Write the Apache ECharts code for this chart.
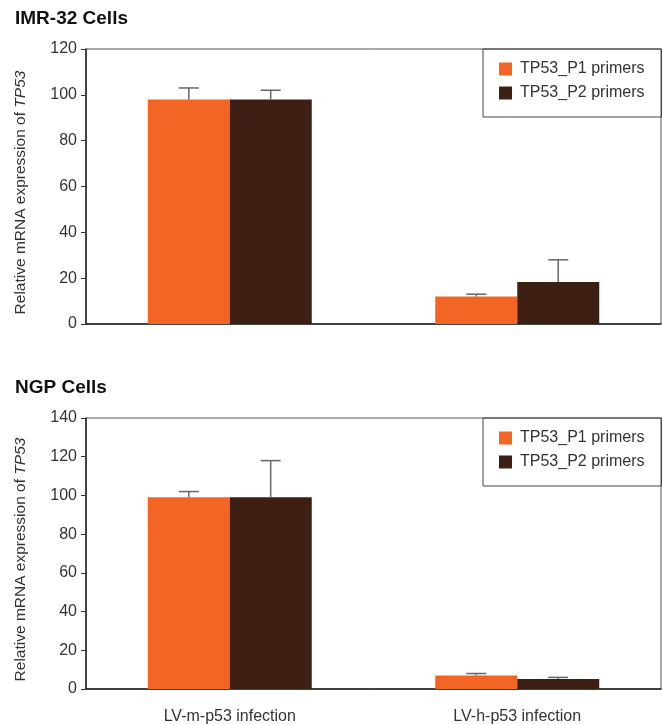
<!DOCTYPE html>
<html>
<head>
<meta charset="utf-8">
<script src="https://cdn.jsdelivr.net/npm/echarts@6/dist/echarts.min.js"></script>
<style>
html,body{margin:0;padding:0;background:#fff;}
#chart{width:662px;height:725px;}
</style>
</head>
<body>
<div id="chart"></div>
<script>
// ---- data ----
const categories = ['LV-m-p53 infection', 'LV-h-p53 infection'];
const seriesNames = ['TP53_P1 primers', 'TP53_P2 primers'];
const panelTitles = ['IMR-32 Cells', 'NGP Cells'];
const yTicksTop = [0, 20, 40, 60, 80, 100, 120];
const yTicksBottom = [0, 20, 40, 60, 80, 100, 120, 140];
// IMR-32 cells
const imrP1 = [98, 12];
const imrP1ErrTop = [103, 13];
const imrP2 = [98, 18.3];
const imrP2ErrTop = [102, 28];
// NGP cells
const ngpP1 = [99, 7];
const ngpP1ErrTop = [102, 8];
const ngpP2 = [99, 5.2];
const ngpP2ErrTop = [118, 6];

const colors = ['#F26524', '#3D1F14'];
const FONT = '"Liberation Sans", Arial, Helvetica, sans-serif';
const TXT = '#333';

const chart = echarts.init(document.getElementById('chart'));

function errData(p1, p1e, p2, p2e) {
  const d = [];
  for (let i = 0; i < categories.length; i++) {
    d.push([i, p1[i], p1e[i], -1]);
    d.push([i, p2[i], p2e[i], 1]);
  }
  return d;
}

function renderErr(params, api) {
  const i = api.value(0);
  const v = api.value(1);
  const top = api.value(2);
  const sign = api.value(3);
  const band = api.size([1, 0])[0];
  const base = api.coord([i, v]);
  const hi = api.coord([i, top]);
  const x = base[0] + sign * band * 0.1424;
  const cap = 10;
  const style = { stroke: '#666', lineWidth: 1.5, fill: null };
  return {
    type: 'group',
    children: [
      { type: 'line', shape: { x1: x, y1: base[1], x2: x, y2: hi[1] }, style: style },
      { type: 'line', shape: { x1: x - cap, y1: hi[1], x2: x + cap, y2: hi[1] }, style: style }
    ]
  };
}

function yAxis(gridIndex, ticks) {
  return {
    type: 'value', gridIndex: gridIndex,
    min: ticks[0], max: ticks[ticks.length - 1], interval: ticks[1] - ticks[0],
    axisLine: { show: true, lineStyle: { color: '#222', width: 1.5 } },
    axisTick: { show: true, length: 5, lineStyle: { color: '#333' } },
    axisLabel: { color: TXT, fontSize: 16, fontFamily: FONT, margin: 9 },
    splitLine: { show: false },
    name: '{a|Relative mRNA expression of }{b|TP53}',
    nameLocation: 'middle', nameGap: 57,
    nameTextStyle: {
      padding: [0, 12, 0, 0],
      rich: {
        a: { fontSize: 15.5, color: TXT, fontFamily: FONT },
        b: { fontSize: 15.5, color: TXT, fontFamily: FONT, fontStyle: 'italic' }
      }
    }
  };
}

function xAxis(gridIndex, showLabel) {
  return {
    type: 'category', gridIndex: gridIndex, data: categories,
    axisLine: { show: true, lineStyle: { color: '#222', width: 1.5 } },
    axisTick: { show: false },
    axisLabel: { show: showLabel, color: TXT, fontSize: 16, fontFamily: FONT, margin: 20 }
  };
}

function legend(top) {
  return {
    data: seriesNames, orient: 'vertical', left: 483, top: top,
    itemWidth: 13, itemHeight: 13, itemGap: 8,
    padding: [12, 17, 16, 16],
    borderColor: '#444', borderWidth: 1,
    icon: 'rect',
    textStyle: { color: TXT, fontSize: 16, fontFamily: FONT, padding: [0, 0, 0, 3] },
    selectedMode: false
  };
}

function bar(name, data, gi, ci) {
  return {
    type: 'bar', name: name, data: data, xAxisIndex: gi, yAxisIndex: gi,
    barWidth: 82, barGap: '0%', itemStyle: { color: colors[ci] }, silent: true
  };
}

chart.setOption({
  animation: false,
  color: colors,
  title: [
    { text: panelTitles[0], left: 15, top: 9, padding: 0,
      textStyle: { fontSize: 19, fontWeight: 'bold', color: '#111', fontFamily: FONT } },
    { text: panelTitles[1], left: 15, top: 378, padding: 0,
      textStyle: { fontSize: 19, fontWeight: 'bold', color: '#111', fontFamily: FONT } }
  ],
  legend: [legend(49), legend(418)],
  grid: [
    { left: 86, right: 1, top: 49, height: 275, show: true, borderColor: '#555', borderWidth: 1 },
    { left: 86, right: 1, top: 418, height: 275, show: true, borderColor: '#555', borderWidth: 1 }
  ],
  xAxis: [xAxis(0, false), xAxis(1, true)],
  yAxis: [yAxis(0, yTicksTop), yAxis(1, yTicksBottom)],
  series: [
    bar(seriesNames[0], imrP1, 0, 0),
    bar(seriesNames[1], imrP2, 0, 1),
    bar(seriesNames[0], ngpP1, 1, 0),
    bar(seriesNames[1], ngpP2, 1, 1),
    { type: 'custom', xAxisIndex: 0, yAxisIndex: 0, z: 5, silent: true,
      data: errData(imrP1, imrP1ErrTop, imrP2, imrP2ErrTop), renderItem: renderErr,
      encode: { x: 0, y: [1, 2] } },
    { type: 'custom', xAxisIndex: 1, yAxisIndex: 1, z: 5, silent: true,
      data: errData(ngpP1, ngpP1ErrTop, ngpP2, ngpP2ErrTop), renderItem: renderErr,
      encode: { x: 0, y: [1, 2] } }
  ]
});
</script>
</body>
</html>
